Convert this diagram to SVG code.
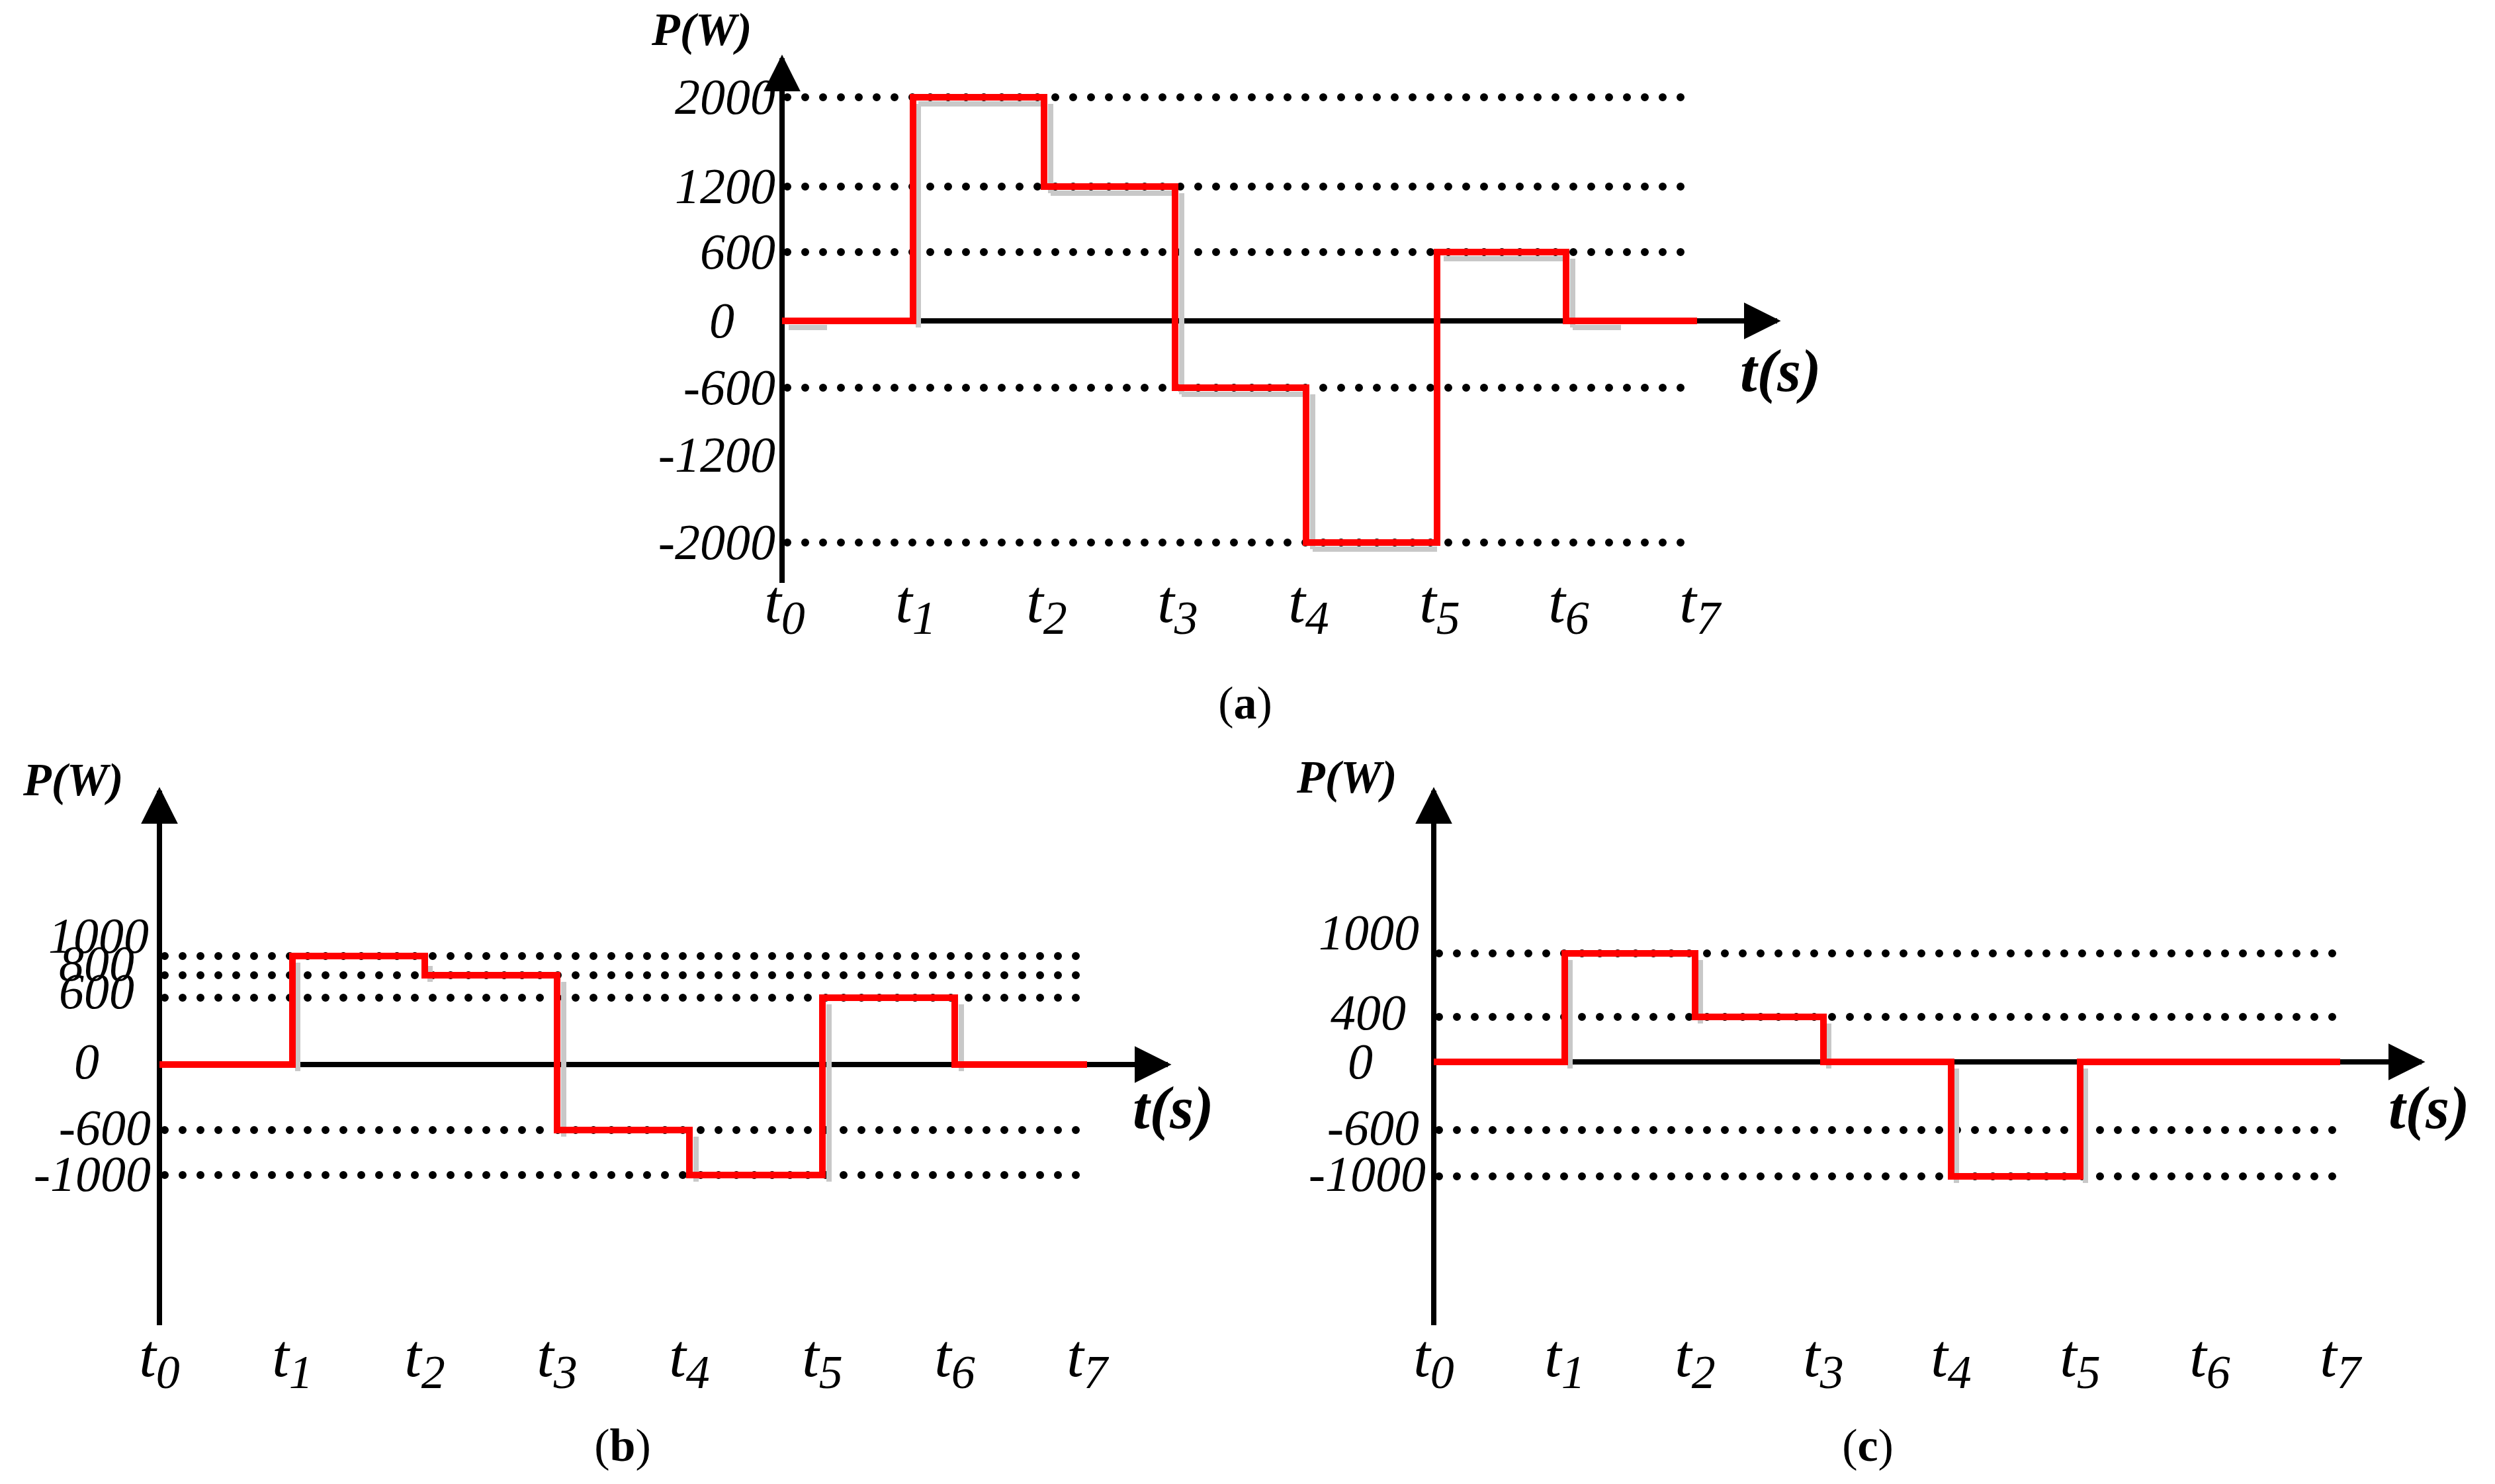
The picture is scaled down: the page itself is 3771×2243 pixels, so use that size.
<svg xmlns="http://www.w3.org/2000/svg" width="3771" height="2243" viewBox="0 0 3771 2243">
<style>
.ax{stroke:#000;stroke-width:8;fill:none}
.dot{stroke:#000;stroke-width:12;stroke-linecap:round;stroke-dasharray:0 27;fill:none}
.sig{stroke:#f00;stroke-width:10;fill:none;stroke-linejoin:miter}
.sh{stroke:#c8c8c8;stroke-width:8;fill:none}
.lab{font-family:"Liberation Serif",serif;font-style:italic;font-size:76px;text-anchor:end;fill:#000}
.t{font-family:"Liberation Serif",serif;font-style:italic;font-size:92px;text-anchor:middle;fill:#000}
.sub{font-size:72px}
.bt{font-family:"Liberation Serif",serif;font-style:italic;font-weight:bold;fill:#000}
.cap{font-family:"Liberation Serif",serif;font-size:70px;text-anchor:middle;fill:#000}
</style>
<defs>
<marker id="ar" viewBox="0 0 10 10" refX="9" refY="5" markerWidth="7" markerHeight="7" markerUnits="strokeWidth" orient="auto"><path d="M0,0 L10,5 L0,10 z" fill="#000"/></marker>
</defs>
<g id="panel-a">
<g id="a-grid">
<path class="dot" d="M1190,147H2565M1190,282H2565M1190,381H2565M1190,586H2565M1190,820H2565"/>
</g>
<g id="a-connectors">
<path class="ax" d="M1182,881V88" marker-end="url(#ar)"/>
<path class="ax" d="M1182,485H2686" marker-end="url(#ar)"/>
<path class="sh" d="M1192,495H1250M1388,157V495M1388,157H1578M1588,157V292M1588,292H1776M1786,292V596M1786,596H1974M1984,596V830M1984,830H2172M2182,391H2367M2377,391V495M2377,495H2450"/>
<path class="sig" d="M1182,485H1380V147H1578V282H1776V586H1974V820H2172V381H2367V485H2565"/>
</g>
<text class="bt" x="985" y="68" font-size="70">P(W)</text>
<text class="lab" x="1172" y="172">2000</text>
<text class="lab" x="1172" y="307">1200</text>
<text class="lab" x="1172" y="406">600</text>
<text class="lab" x="1110" y="510">0</text>
<text class="lab" x="1172" y="611">-600</text>
<text class="lab" x="1172" y="713">-1200</text>
<text class="lab" x="1172" y="845">-2000</text>
<text class="bt" x="2630" y="591" font-size="92">t(s)</text>
<g id="a-ticks">
<text class="t" x="1186" y="940">t<tspan class="sub" dy="18">0</tspan></text>
<text class="t" x="1384" y="940">t<tspan class="sub" dy="18">1</tspan></text>
<text class="t" x="1582" y="940">t<tspan class="sub" dy="18">2</tspan></text>
<text class="t" x="1780" y="940">t<tspan class="sub" dy="18">3</tspan></text>
<text class="t" x="1978" y="940">t<tspan class="sub" dy="18">4</tspan></text>
<text class="t" x="2176" y="940">t<tspan class="sub" dy="18">5</tspan></text>
<text class="t" x="2371" y="940">t<tspan class="sub" dy="18">6</tspan></text>
<text class="t" x="2569" y="940">t<tspan class="sub" dy="18">7</tspan></text>
</g>
<text class="cap" x="1882" y="1086">(<tspan font-weight="bold">a</tspan>)</text>
</g>
<g id="panel-b">
<path class="dot" d="M249,1445H1648M249,1474H1648M249,1508H1648M249,1708H1648M249,1776H1648"/>
<g id="b-connectors">
<path class="ax" d="M241,2003V1195" marker-end="url(#ar)"/>
<path class="ax" d="M241,1609H1765" marker-end="url(#ar)"/>
<path class="sh" d="M450,1455V1619M650,1484V1460M852,1484V1718M1052,1786V1718M1253,1518V1786M1453,1518V1619"/>
<path class="sig" d="M241,1609H442V1445H642V1474H842V1708H1042V1776H1243V1508H1443V1609H1643"/>
</g>
<text class="bt" x="35" y="1202" font-size="70">P(W)</text>
<text class="lab" x="225" y="1440" font-size="56">1000</text>
<text class="lab" x="203" y="1482" font-size="56">800</text>
<text class="lab" x="203" y="1524" font-size="56">600</text>
<text class="lab" x="150" y="1630" font-size="70">0</text>
<text class="lab" x="228" y="1730" font-size="70">-600</text>
<text class="lab" x="228" y="1800" font-size="70">-1000</text>
<text class="bt" x="1712" y="1705" font-size="92">t(s)</text>
<g id="b-ticks">
<text class="t" x="241" y="2080">t<tspan class="sub" dy="18">0</tspan></text>
<text class="t" x="442" y="2080">t<tspan class="sub" dy="18">1</tspan></text>
<text class="t" x="642" y="2080">t<tspan class="sub" dy="18">2</tspan></text>
<text class="t" x="842" y="2080">t<tspan class="sub" dy="18">3</tspan></text>
<text class="t" x="1042" y="2080">t<tspan class="sub" dy="18">4</tspan></text>
<text class="t" x="1243" y="2080">t<tspan class="sub" dy="18">5</tspan></text>
<text class="t" x="1443" y="2080">t<tspan class="sub" dy="18">6</tspan></text>
<text class="t" x="1643" y="2080">t<tspan class="sub" dy="18">7</tspan></text>
</g>
<text class="cap" x="941" y="2208">(<tspan font-weight="bold">b</tspan>)</text>
</g>
<g id="panel-c">
<path class="dot" d="M2175,1441H3545M2175,1537H3545M2175,1708H3545M2175,1778H3545"/>
<g id="c-connectors">
<path class="ax" d="M2167,2003V1195" marker-end="url(#ar)"/>
<path class="ax" d="M2167,1605H3660" marker-end="url(#ar)"/>
<path class="sh" d="M2373,1451V1615M2570,1451V1547M2764,1547V1615M2957,1615V1788M3152,1788V1615"/>
<path class="sig" d="M2167,1605H2365V1441H2562V1537H2756V1605H2949V1778H3144V1605H3537"/>
</g>
<text class="bt" x="1960" y="1198" font-size="70">P(W)</text>
<text class="lab" x="2145" y="1435" font-size="72">1000</text>
<text class="lab" x="2125" y="1556" font-size="66">400</text>
<text class="lab" x="2075" y="1630" font-size="66">0</text>
<text class="lab" x="2145" y="1730" font-size="72">-600</text>
<text class="lab" x="2155" y="1800" font-size="72">-1000</text>
<text class="bt" x="3610" y="1705" font-size="92">t(s)</text>
<g id="c-ticks">
<text class="t" x="2167" y="2080">t<tspan class="sub" dy="18">0</tspan></text>
<text class="t" x="2365" y="2080">t<tspan class="sub" dy="18">1</tspan></text>
<text class="t" x="2562" y="2080">t<tspan class="sub" dy="18">2</tspan></text>
<text class="t" x="2756" y="2080">t<tspan class="sub" dy="18">3</tspan></text>
<text class="t" x="2949" y="2080">t<tspan class="sub" dy="18">4</tspan></text>
<text class="t" x="3144" y="2080">t<tspan class="sub" dy="18">5</tspan></text>
<text class="t" x="3340" y="2080">t<tspan class="sub" dy="18">6</tspan></text>
<text class="t" x="3537" y="2080">t<tspan class="sub" dy="18">7</tspan></text>
</g>
<text class="cap" x="2823" y="2208">(<tspan font-weight="bold">c</tspan>)</text>
</g>
</svg>
